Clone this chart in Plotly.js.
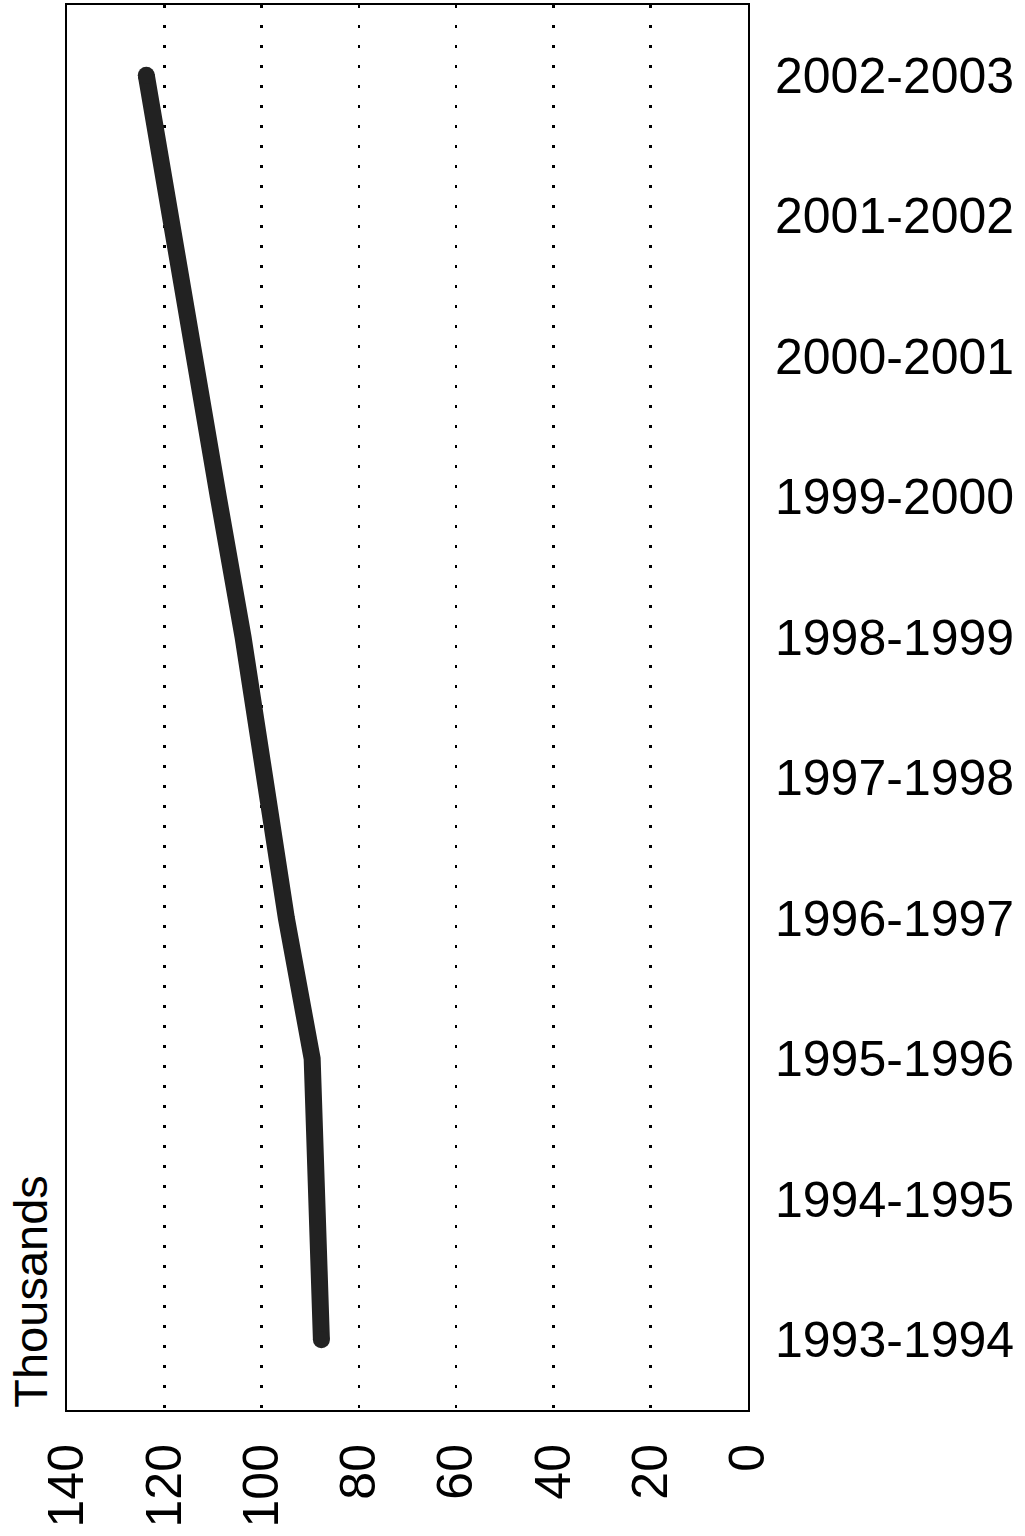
<!DOCTYPE html>
<html>
<head>
<meta charset="utf-8">
<script src="https://cdn.plot.ly/plotly-3.0.1.min.js"></script>
<style>html,body{margin:0;padding:0;background:#fff;}</style>
</head>
<body>
<div id="chart" style="width:1025px;height:1536px;"></div>
<script>
const years = ["1993-1994","1994-1995","1995-1996","1996-1997","1997-1998","1998-1999","1999-2000","2000-2001","2001-2002","2002-2003"];
const thousands = [87.7, 88.9, 89.6, 94.9, 99.0, 103.8, 108.9, 114.1, 118.6, 123.7];
const xTicks = [0, 20, 40, 60, 80, 100, 120, 140];
const axisTitle = "Thousands";

const font = "Liberation Sans, Arial, Helvetica, sans-serif";
const endMarkers = thousands.map((v, i) => (i === 0 || i === thousands.length - 1) ? 17 : 0);

const trace = {
  type: "scatter",
  mode: "lines+markers",
  x: thousands,
  y: years,
  line: {color: "#222222", width: 17},
  marker: {color: "#222222", size: endMarkers, opacity: 1, symbol: "circle", line: {width: 0, color: "#222222"}},
  hoverinfo: "skip"
};

const layout = {
  width: 1025,
  height: 1536,
  margin: {l: 67, r: 277, t: 5, b: 126},
  paper_bgcolor: "#fff",
  plot_bgcolor: "#fff",
  showlegend: false,
  xaxis: {
    range: [140, 0],
    tickvals: xTicks,
    ticktext: xTicks.map(String),
    tickangle: -90,
    tickfont: {family: font, size: 50, color: "#000"},
    ticks: "",
    ticklabelstandoff: 12,
    showgrid: true,
    gridcolor: "#000",
    gridwidth: 2.5,
    griddash: "3px,17px",
    zeroline: false,
    showline: true,
    linecolor: "#000",
    linewidth: 2,
    mirror: true
  },
  yaxis: {
    type: "category",
    categoryorder: "array",
    categoryarray: years,
    range: [-0.5, 9.5],
    side: "right",
    tickfont: {family: font, size: 50, color: "#000"},
    ticks: "",
    ticklabelstandoff: 15,
    showgrid: false,
    zeroline: false,
    showline: true,
    linecolor: "#000",
    linewidth: 2,
    mirror: true
  },
  annotations: [{
    text: axisTitle,
    xref: "paper", yref: "paper",
    x: -0.054, y: 0,
    xanchor: "center", yanchor: "bottom",
    textangle: -90,
    showarrow: false,
    font: {family: font, size: 47, color: "#000"}
  }]
};

Plotly.newPlot("chart", [trace], layout, {staticPlot: true, displayModeBar: false});
</script>
</body>
</html>
